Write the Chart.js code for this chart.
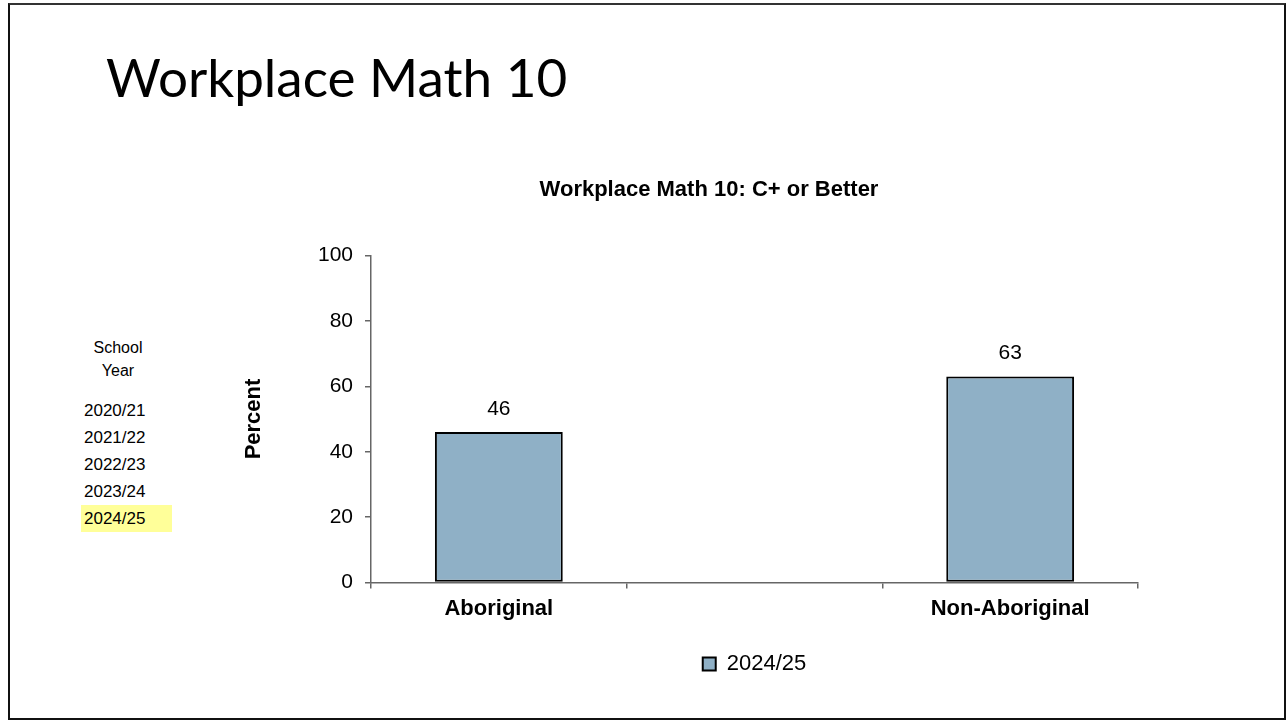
<!DOCTYPE html>
<html>
<head>
<meta charset="utf-8">
<script src="https://cdn.jsdelivr.net/npm/chart.js@4.4.1/dist/chart.umd.min.js"></script>
<style>
    body { margin: 0; background: #fff; width: 1288px; height: 721px; position: relative; overflow: hidden; }
    #frame { position: absolute; left: 8px; top: 3px; width: 1274px; height: 713px; border: 2px solid #111; border-top-color: #333; }
    #slide-title { position: absolute; left: 106px; top: 50px; font-family: Lato, "Open Sans", sans-serif; font-size: 53px; line-height: 1; color: #000; white-space: nowrap; }
    #years { position: absolute; left: 81px; top: 336px; font-family: "Liberation Sans", Arial, sans-serif; color: #000; }
    #years .head { width: 74px; text-align: center; font-size: 16px; line-height: 23px; }
    #years ul { list-style: none; margin: 15px 0 0 0; padding: 0; }
    #years li { font-size: 17px; line-height: 27px; height: 27px; padding-left: 3px; width: 88px; }
    #years li.current { background: #ffff99; }
    #chart-box { position: absolute; left: 230px; top: 160px; width: 958px; height: 525px; }
</style>
</head>
<body>
<div id="frame"></div>
<div id="slide-title">Workplace Math 10</div>
<div id="years">
    <div class="head">School<br>Year</div>
    <ul id="year-list"></ul>
</div>
<div id="chart-box"><canvas id="mathChart"></canvas></div>

<script>
// data
const schoolYears = ["2020/21", "2021/22", "2022/23", "2023/24", "2024/25"];
const currentYear = "2024/25";
const groups = ["Aboriginal", "", "Non-Aboriginal"];   // middle slot is empty in the source chart
const percentCPlus = [46, null, 63];
const yTicks = [0, 20, 40, 60, 80, 100];

// year list on the left
for (let yr of schoolYears) {
    let li = document.createElement("li");
    li.textContent = yr;
    if (yr == currentYear) li.className = "current";
    document.getElementById("year-list").appendChild(li);
}

// value labels above the bars
const barValues = {
    id: "barValues",
    afterDatasetsDraw(chart) {
        const ctx = chart.ctx;
        const meta = chart.getDatasetMeta(0);
        ctx.save();
        ctx.font = "21px 'Liberation Sans', Arial, sans-serif";
        ctx.fillStyle = "#000";
        ctx.textAlign = "center";
        ctx.textBaseline = "middle";
        meta.data.forEach((bar, i) => {
            let v = chart.data.datasets[0].data[i];
            if (v == null) return;
            ctx.fillText(v, bar.x, bar.y - 23);
        });
        ctx.restore();
    }
};

const axisFont = "'Liberation Sans', Arial, sans-serif";

const ctx = document.getElementById('mathChart').getContext('2d');
const mathChart = new Chart(ctx, {
    type: 'bar',
    data: {
        labels: groups,
        datasets: [{
            label: currentYear,
            data: percentCPlus,
            backgroundColor: "#8fb0c6",
            borderColor: "#000",
            borderWidth: 2,
            borderSkipped: false,
            barPercentage: 0.5,
            categoryPercentage: 1.0
        }]
    },
    plugins: [barValues],
    options: {
        responsive: true,
        maintainAspectRatio: false,
        animation: false,
        layout: { padding: 0 },
        scales: {
            x: {
                grid: { display: true, drawOnChartArea: false, offset: true, tickLength: 6, color: "#666", lineWidth: 1.5 },
                border: { color: "#666", width: 1.5 },
                ticks: {
                    padding: 7,
                    color: "#000",
                    font: { family: axisFont, size: 22, weight: "bold" },
                    maxRotation: 0
                }
            },
            y: {
                min: 0,
                max: 100,
                afterBuildTicks: (scale) => { scale.ticks = yTicks.map(v => ({ value: v })); },
                afterFit: (scale) => { scale.width = 141; },
                grid: { display: true, drawOnChartArea: false, tickLength: 6, color: "#666", lineWidth: 1.5 },
                border: { color: "#666", width: 1.5 },
                ticks: {
                    padding: 12,
                    color: "#000",
                    font: { family: axisFont, size: 21 }
                },
                title: {
                    display: true,
                    text: "Percent",
                    color: "#000",
                    font: { family: axisFont, size: 22, weight: "bold" },
                    padding: { top: 11, bottom: 0 }
                }
            },
            // empty right-hand strip so the chart title centres like the original
            spacer: {
                type: 'linear',
                position: 'right',
                display: true,
                grid: { display: false, drawTicks: false },
                border: { display: false },
                ticks: { display: false },
                afterFit: (scale) => { scale.width = 50; }
            }
        },
        plugins: {
            title: {
                display: true,
                text: "Workplace Math 10: C+ or Better",
                color: "#000",
                font: { family: axisFont, size: 22, weight: "bold" },
                padding: { top: 17, bottom: 52 }
            },
            legend: {
                position: 'bottom',
                fullSize: false,
                labels: {
                    color: "#000",
                    font: { family: axisFont, size: 22 },
                    boxWidth: 13,
                    boxHeight: 13,
                    padding: 24
                }
            },
            tooltip: { enabled: false }
        }
    }
});
</script>
</body>
</html>
